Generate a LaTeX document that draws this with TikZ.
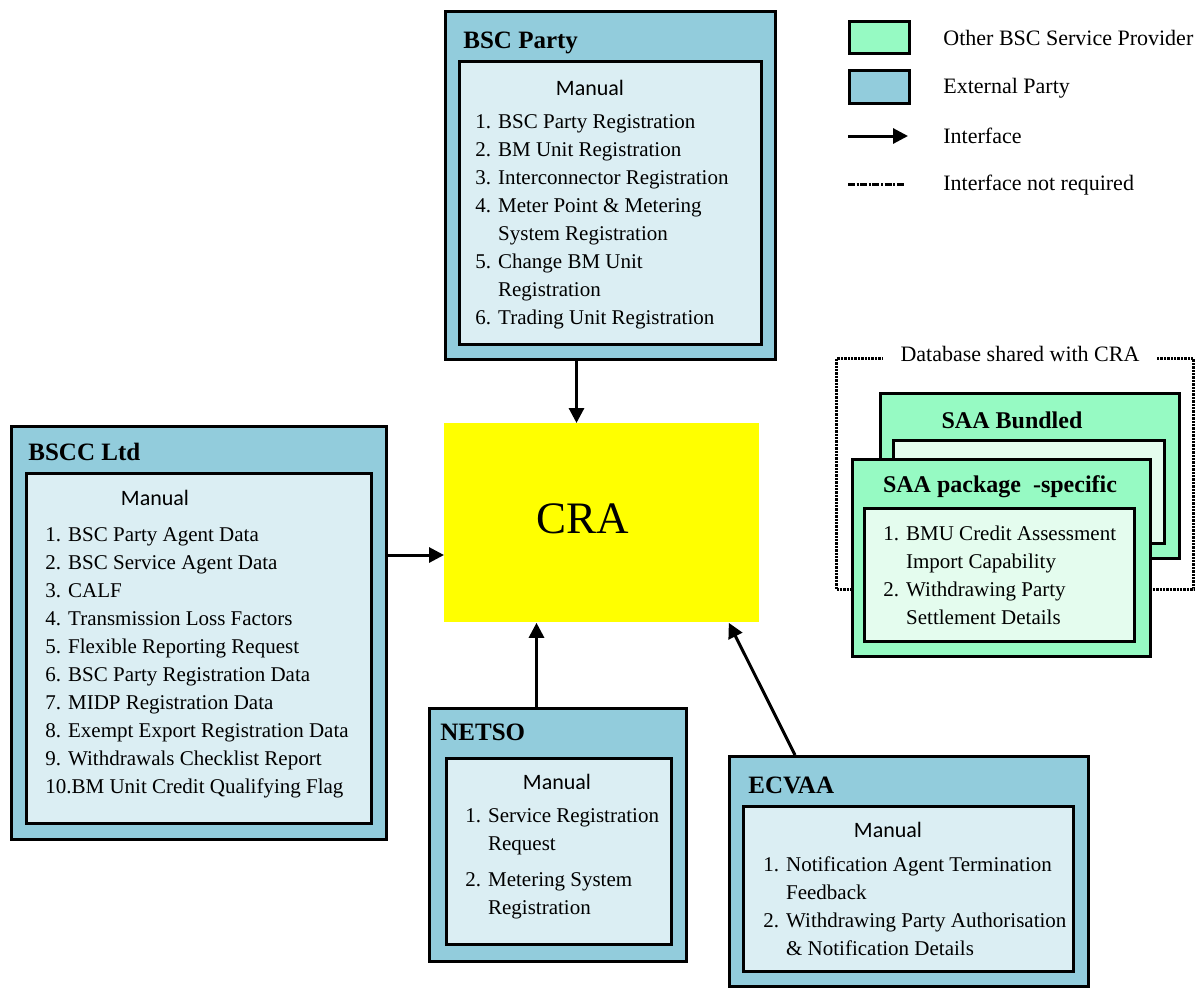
\documentclass[tikz,border=0pt]{standalone}
\usepackage{fontspec}
\setmainfont{Liberation Serif}
\newfontfamily\calibri{Carlito}
\usetikzlibrary{arrows.meta}
\definecolor{extblue}{RGB}{146,204,220}
\definecolor{innerblue}{RGB}{219,238,243}
\definecolor{provgreen}{RGB}{150,250,195}
\definecolor{innergreen}{RGB}{228,252,238}
\definecolor{crayellow}{RGB}{255,255,0}
\begin{document}
\begin{tikzpicture}[x=0.5pt,y=-0.5pt,
			outerbox/.style={draw=black, line width=1.5pt, fill=extblue, inner sep=0pt, anchor=north west},
			innerbox/.style={draw=black, line width=1.5pt, fill=innerblue, inner sep=0pt, anchor=north west},
			greenbox/.style={outerbox, fill=provgreen},
			greeninner/.style={innerbox, fill=innergreen},
			titletext/.style={anchor=base west, inner sep=0pt, font=\bfseries\fontsize{12.5}{15}\selectfont},
			manualtext/.style={inner sep=0pt, font=\calibri\fontsize{11}{13}\selectfont},
			listtext/.style={anchor=north west, inner sep=0pt, align=left, font=\fontsize{10.5}{14}\selectfont},
			legendtext/.style={anchor=west, inner sep=0pt, font=\fontsize{11}{13}\selectfont},
			iface/.style={line width=1.5pt, -{Triangle[length=7.5pt,width=7.5pt]}},
			dbline/.style={line width=1.5pt, dash pattern=on 1.2pt off 0.5pt},
			]
			\useasboundingbox (0,0) rectangle (1203,987);
			% legend
			\node[greenbox, minimum width=30pt, minimum height=16pt] at (848,20) (leggreen) {};
			\node[outerbox, minimum width=30pt, minimum height=16.5pt] at (848,69) (legblue) {};
			\coordinate (legarrowa) at (848,136);
			\coordinate (legarrowb) at (908,136);
			\coordinate (legdasha) at (848,184);
			\coordinate (legdashb) at (905,184);
			\draw[iface] (legarrowa) -- (legarrowb);
			\draw[line width=1.5pt, dash pattern=on 3.5pt off 0.8pt on 1pt off 0.8pt] (legdasha) -- (legdashb);
			\node[legendtext] at (943,38) (legprov) {Other BSC Service Provider};
			\node[legendtext] at (943,88) (legext) {External Party};
			\node[legendtext] at (943,136) (legiface) {Interface};
			\node[legendtext] at (943,185) (legnone) {Interface not required};
			% BSC Party
			\node[outerbox, minimum width=165pt, minimum height=174pt] at (444,10) (bscparty) {};
			\node[innerbox, minimum width=151pt, minimum height=141.5pt] at (458,60) (bscpartyin) {};
			\node[titletext] at (463,48) (bscpartytitle) {BSC Party};
			\node[manualtext] at (590,88) (bscpartyman) {Manual};
			\node[listtext] at (475,114) (bscpartylist) {1. BSC Party Registration\\
				2. BM Unit Registration\\
				3. Interconnector Registration\\
				4. Meter Point \& Metering\\
				\hphantom{4. }System Registration\\
				5. Change BM Unit\\
				\hphantom{5. }Registration\\
				6. Trading Unit Registration};
			% CRA
			\node[fill=crayellow, minimum width=157.5pt, minimum height=99.5pt, inner sep=0pt, anchor=north west]
				at (444,423) (cra) {};
			\node[font=\fontsize{22.5}{26}\selectfont, inner sep=0pt] at (583,519) (cralabel) {CRA};
			% BSCC Ltd
			\node[outerbox, minimum width=187.5pt, minimum height=206.5pt] at (10,425) (bscc) {};
			\node[innerbox, minimum width=172.5pt, minimum height=175pt] at (25,472) (bsccin) {};
			\node[titletext] at (28,460) (bscctitle) {BSCC Ltd};
			\node[manualtext] at (155,498) (bsccman) {Manual};
			\node[listtext] at (45,527) (bscclist) {1. BSC Party Agent Data\\
				2. BSC Service Agent Data\\
				3. CALF\\
				4. Transmission Loss Factors\\
				5. Flexible Reporting Request\\
				6. BSC Party Registration Data\\
				7. MIDP Registration Data\\
				8. Exempt Export Registration Data\\
				9. Withdrawals Checklist Report\\
				10.BM Unit Credit Qualifying Flag};
			% NETSO
			\node[outerbox, minimum width=128.5pt, minimum height=126.5pt] at (428,707) (netso) {};
			\node[innerbox, minimum width=112.5pt, minimum height=93pt] at (445,757) (netsoin) {};
			\node[titletext] at (440,740) (netsotitle) {NETSO};
			\node[manualtext] at (557,782) (netsoman) {Manual};
			\node[listtext] at (465,808) (netsolist) {1. Service Registration\\
				\hphantom{1. }Request\\[4pt]
				2. Metering System\\
				\hphantom{2. }Registration};
			% ECVAA
			\node[outerbox, minimum width=179.5pt, minimum height=115pt] at (728,755) (ecvaa) {};
			\node[innerbox, minimum width=165pt, minimum height=82.5pt] at (742,805) (ecvaain) {};
			\node[titletext] at (748,793) (ecvaatitle) {ECVAA};
			\node[manualtext] at (888,830) (ecvaaman) {Manual};
			\node[listtext] at (763,856) (ecvaalist) {1. Notification Agent Termination\\
				\hphantom{1. }Feedback\\
				2. Withdrawing Party Authorisation\\
				\hphantom{2. }\& Notification Details};
			% database shared with CRA
			\node[draw=black, dbline, inner sep=0pt, anchor=north west, minimum width=178.5pt, minimum height=115.5pt]
				at (835,357) (dbframe) {};
			\node[fill=white, inner xsep=9pt, inner ysep=1pt, font=\fontsize{11}{13}\selectfont] at (1020,354) (dblabel) {Database shared with CRA};
			\node[greenbox, minimum width=149.5pt, minimum height=82.5pt] at (879,392) (saab) {};
			\node[greeninner, minimum width=135.5pt, minimum height=51.5pt] at (892,439) (saabin) {};
			\node[font=\bfseries\fontsize{12}{14}\selectfont, inner sep=0pt] at (1012,420) (saabtitle) {SAA Bundled};
			\node[greenbox, minimum width=149pt, minimum height=98.5pt] at (851,458) (saap) {};
			\node[greeninner, minimum width=135pt, minimum height=66.5pt] at (863,507) (saapin) {};
			\node[font=\bfseries\fontsize{12}{14}\selectfont, inner sep=0pt] at (1000,487) (saaptitle) {SAA package\ \ -specific};
			\node[listtext] at (883,526) (saaplist) {1. BMU Credit Assessment\\
				\hphantom{1. }Import Capability\\
				2. Withdrawing Party\\
				\hphantom{2. }Settlement Details};
			% interfaces
			\draw[iface] ([xshift=-17pt]bscparty.south) -- ([xshift=-17pt]bscparty.south |- cra.north);
			\draw[iface] ([yshift=39pt]bscc.east) -- ([yshift=39pt]bscc.east -| cra.west);
			\draw[iface] ([xshift=-10.75pt]netso.north) -- ([xshift=-10.75pt]netso.north |- cra.south);
			\draw[iface] ([xshift=33.5pt]ecvaa.north west) -- ([xshift=-15.5pt]cra.south east);
		\end{tikzpicture}
\end{document}
